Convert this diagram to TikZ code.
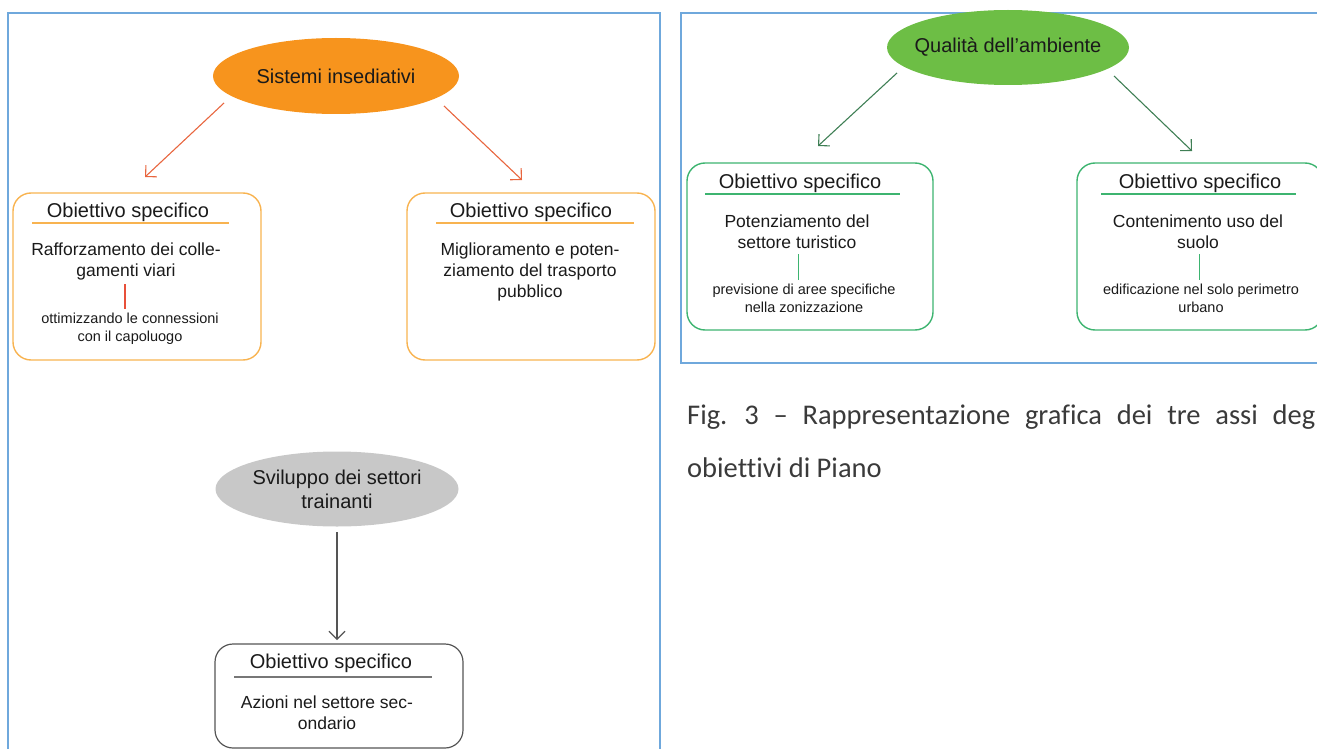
\documentclass[tikz,border=0pt]{standalone}
\usepackage{fontspec}
\setmainfont{Liberation Sans}
\newfontfamily\capfont[Ligatures=NoCommon]{Carlito}
\usetikzlibrary{shapes.geometric,arrows.meta}
\definecolor{panelblue}{HTML}{6FA8DC}
\definecolor{ellorange}{HTML}{F7941D}
\definecolor{boxorange}{HTML}{F8B350}
\definecolor{arrorange}{HTML}{E8663F}
\definecolor{lineorange}{HTML}{E8503A}
\definecolor{ellgreen}{HTML}{6DBE45}
\definecolor{boxgreen}{HTML}{3DB470}
\definecolor{arrgreen}{HTML}{3F7F55}
\definecolor{ellgray}{HTML}{C8C8C8}
\definecolor{boxgray}{HTML}{555555}
\definecolor{txt}{HTML}{1A1A1A}
\definecolor{captxt}{HTML}{3A3A3A}
\tikzset{
  panel/.style={draw=panelblue, line width=1.8pt},
  ell/.style={ellipse, draw=none, inner sep=0pt},
  elltext/.style={text=txt, align=center, inner sep=0pt, font=\fontsize{20}{24}\selectfont},
  obj/.style={draw, rounded corners=18pt, line width=1.4pt, inner sep=0pt},
  ttl/.style={text=txt, inner sep=0pt, font=\fontsize{20}{24}\selectfont},
  body/.style={text=txt, inner sep=0pt, align=center, font=\fontsize{17.5}{21}\selectfont},
  small/.style={text=txt, inner sep=0pt, align=center, font=\fontsize{14.5}{18}\selectfont},
  arr/.style={line width=1.1pt, -{Straight Barb[length=8pt,width=16pt]}},
  captiontext/.style={anchor=base west, inner sep=0pt, text=captxt, font=\capfont\fontsize{28.5}{34}\selectfont},
}
\begin{document}
\begin{tikzpicture}[x=1pt,y=-1pt]
\useasboundingbox (0,0) rectangle (1317,749);
% panels
\draw[panel] (8,760) -- (8,13) -- (660,13) -- (660,760);
\draw[panel] (1330,363) -- (681,363) -- (681,13) -- (1330,13);

% ---------- Sistemi insediativi ----------
\node[ell, fill=ellorange, minimum width=246pt, minimum height=76pt] (e1) at (336,76) {};
\node[elltext] (e1t) at (e1) {Sistemi insediativi};
\node[obj, draw=boxorange, minimum width=248pt, minimum height=167pt] (b1) at (137,276.5) {};
\node[obj, draw=boxorange, minimum width=248pt, minimum height=167pt] (b2) at (531,276.5) {};
\coordinate (a1s) at (224,103); \coordinate (a1e) at (145,177);
\coordinate (a2s) at (444,106); \coordinate (a2e) at (522,180);
\draw[arr, arrorange] (a1s) -- (a1e);
\draw[arr, arrorange] (a2s) -- (a2e);

\node[ttl] (t1) at (128,212) {Obiettivo specifico};
\draw[boxorange, line width=1.3pt] (32,223) -- (229,223);
\node[body] (x1) at (126,261) {Rafforzamento dei colle-\\gamenti viari};
\node[small] (s1) at (130,329) {ottimizzando le connessioni\\con il capoluogo};
\draw[lineorange, line width=1.5pt] (125,284) -- (125,309);

\node[ttl] (t2) at (531,212) {Obiettivo specifico};
\draw[boxorange, line width=1.3pt] (436,223) -- (634,223);
\node[body] (x2) at (530,272) {Miglioramento e poten-\\ziamento del trasporto\\pubblico};

% ---------- Sviluppo dei settori trainanti ----------
\node[ell, fill=ellgray, minimum width=243pt, minimum height=75pt] (e3) at (337,489) {};
\node[elltext] (e3t) at (e3) {Sviluppo dei settori\\trainanti};
\node[obj, draw=boxgray, line width=1.2pt, minimum width=248pt, minimum height=104pt] (b3) at (339,696) {};
\coordinate (a3s) at (337,532); \coordinate (a3e) at (337,640);
\draw[arr, boxgray] (a3s) -- (a3e);
\node[ttl] (t3) at (331,663) {Obiettivo specifico};
\draw[boxgray!80, line width=1.2pt] (234,677) -- (432,677);
\node[body] (x3) at (327,713) {Azioni nel settore sec-\\ondario};

% ---------- Qualita dell'ambiente ----------
\node[ell, fill=ellgreen, minimum width=242pt, minimum height=75pt] (e2) at (1008,47.5) {};
\node[elltext] (e2t) at (e2) {Qualità dell’ambiente};
\node[obj, draw=boxgreen, minimum width=246pt, minimum height=167pt] (b4) at (810,246.5) {};
\node[obj, draw=boxgreen, minimum width=246pt, minimum height=167pt] (b5) at (1200,246.5) {};
\coordinate (a4s) at (897,73); \coordinate (a4e) at (818,146);
\coordinate (a5s) at (1114,76); \coordinate (a5e) at (1192,151);
\draw[arr, arrgreen] (a4s) -- (a4e);
\draw[arr, arrgreen] (a5s) -- (a5e);

\node[ttl] (t4) at (800,183) {Obiettivo specifico};
\draw[boxgreen, line width=1.3pt] (705,194) -- (900,194);
\node[body] (x4) at (797,231.5) {Potenziamento del\\settore turistico};
\draw[boxgreen, line width=0.8pt] (798,254) -- (798,280);
\node[small] (s4) at (804,298.5) {previsione di aree specifiche\\nella zonizzazione};

\node[ttl] (t5) at (1200,183) {Obiettivo specifico};
\draw[boxgreen, line width=1.3pt] (1101,194) -- (1296,194);
\node[body] (x5) at (1198,231.5) {Contenimento uso del\\suolo};
\draw[boxgreen, line width=0.8pt] (1199,254) -- (1199,280);
\node[small] (s5) at (1201,298.5) {edificazione nel solo perimetro\\urbano};

% ---------- caption ----------
\node[captiontext] (cap1) at (687,424)
  {\spaceskip=14.8pt Fig. 3 – Rappresentazione grafica dei tre assi deg};
\node[captiontext] (cap2) at (687,477) {obiettivi di Piano};
\end{tikzpicture}
\end{document}
